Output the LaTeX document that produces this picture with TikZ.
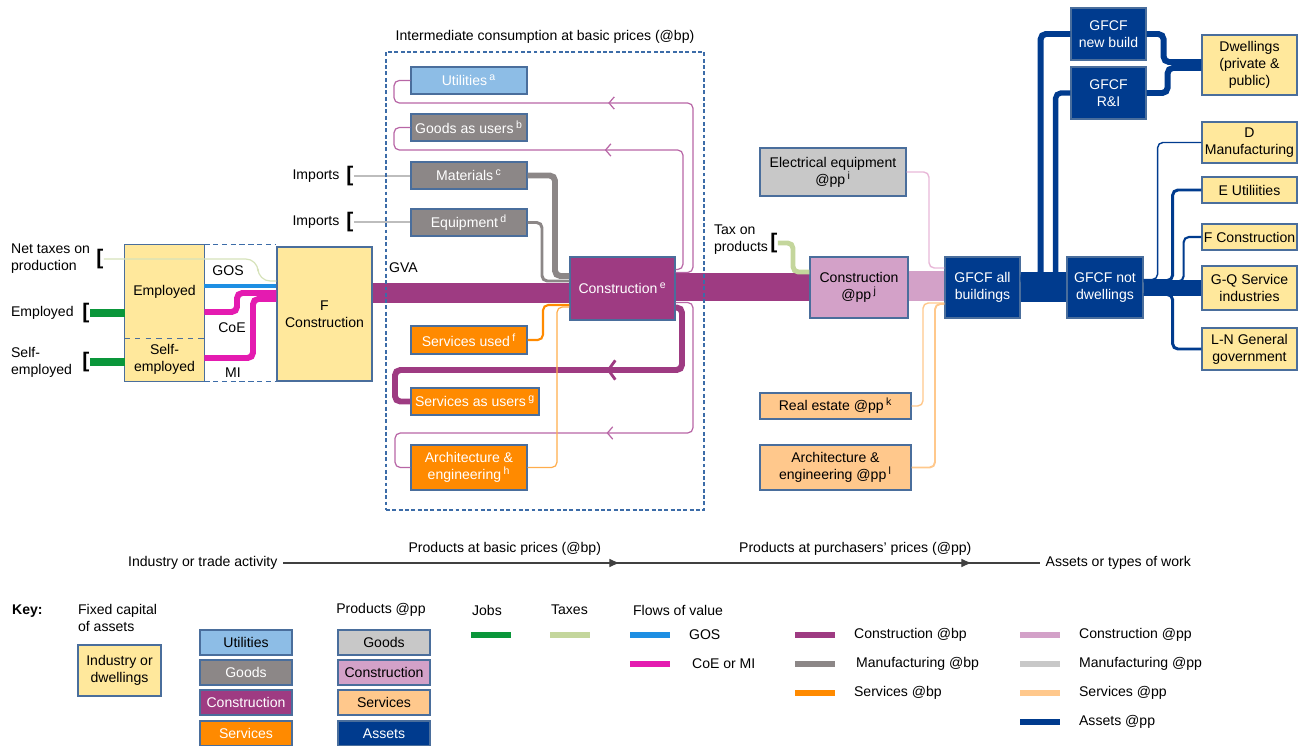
\documentclass[tikz,border=0pt]{standalone}
\usepackage{fontspec}
\setmainfont{Liberation Sans}
\usepackage{xcolor}
\usepackage{tikz}
\usetikzlibrary{arrows, arrows.meta, positioning, calc, decorations.markings}

\definecolor{yfill}{HTML}{FFE89C}
\definecolor{boxedge}{HTML}{4A6E9C}
\definecolor{ublue}{HTML}{8DBDE6}
\definecolor{gfill}{HTML}{8C8787}
\definecolor{cpurple}{HTML}{9E3B82}
\definecolor{sorange}{HTML}{FF8A00}
\definecolor{lgray}{HTML}{C8C8C8}
\definecolor{lpurple}{HTML}{D3A1C8}
\definecolor{lorange}{HTML}{FFC88C}
\definecolor{dblue}{HTML}{003B8E}
\definecolor{jobgreen}{HTML}{0A963A}
\definecolor{taxgreen}{HTML}{C4D69C}
\definecolor{gosblue}{HTML}{1E8FE3}
\definecolor{coemag}{HTML}{E41BB0}
\definecolor{dashblue}{HTML}{3C6CA8}
\definecolor{impgray}{HTML}{BDBDBD}
\definecolor{looppink}{HTML}{B866A6}
\definecolor{elecpink}{HTML}{E8B8D8}

\tikzset{
    tile/.style={draw=boxedge, line width=0.7pt, align=center, inner sep=1pt},
    ytile/.style={tile, fill=yfill},
    utile/.style={tile, fill=ublue, text=white},
    gtile/.style={tile, fill=gfill, text=white},
    ctile/.style={tile, fill=cpurple, text=white},
    stile/.style={tile, fill=sorange, text=white},
    etile/.style={tile, fill=lgray},
    cptile/.style={tile, fill=lpurple},
    sptile/.style={tile, fill=lorange},
    atile/.style={tile, fill=dblue, text=white},
    lbl/.style={align=left, inner sep=1pt},
    brk/.style={inner sep=0pt, font=\fontsize{12}{12}\selectfont\bfseries},
    stream/.style={rounded corners=3pt},
    band/.style={draw=cpurple},
    loopline/.style={stream, draw=looppink, line width=0.7pt},
    jobline/.style={draw=jobgreen, line width=4.5pt},
    coeline/.style={stream, draw=coemag, line width=3.4pt},
    edgedash/.style={draw=dashblue, line width=0.7pt, dash pattern=on 3pt off 2pt},
    swatch/.style={line width=3.4pt},
    flowmark/.style={postaction={decorate, decoration={markings,
        mark=at position #1 with {\arrow{Straight Barb[length=3pt,width=7pt]}}}}},
    thickmark/.style={postaction={decorate, decoration={markings,
        mark=at position #1 with {\arrow{Straight Barb[length=4pt,width=11pt,line width=1.6pt]}}}}},
}

\begin{document}
\begin{tikzpicture}[x=0.02cm, y=-0.02cm, font=\fontsize{8}{9.6}\selectfont]
\useasboundingbox (0,0) rectangle (1299,746);

% industry and jobs
\node[lbl, anchor=west] (lnet) at (9,259) {Net taxes on\\production};
\node[brk] (bnet) at (100,259) {[};
\node[lbl, anchor=west] (lemp) at (9,313) {Employed};
\node[brk] (bemp) at (86,313) {[};
\node[lbl, anchor=west] (lself) at (9,362) {Self-\\employed};
\node[brk] (bself) at (86,362) {[};

\node[fill=yfill, minimum width=1.58cm, minimum height=1.86cm, inner sep=0pt] (emp) at (164.5,291.5) {\raisebox{-4pt}{Employed}};
\node[fill=yfill, minimum width=1.58cm, minimum height=0.86cm, inner sep=0pt, align=center] (self) at (164.5,359.5) {Self-\\employed};
\draw[draw=boxedge, line width=0.7pt] (emp.north west) rectangle (self.south east);
\draw[draw=boxedge, line width=0.7pt, dashed] (emp.south west) -- (emp.south east);
\node[ytile, minimum width=1.9cm, minimum height=2.68cm] (fcon) at (324.5,314) {F\\Construction};

\draw[jobline] (bemp.east) -- (bemp.east -| emp.west);
\draw[jobline] (bself.east) -- (bself.east -| self.west);
\draw[stream, draw=taxgreen!70, line width=0.7pt, rounded corners=7pt] (bnet.east) -| (258,281) -- (fcon.west |- 0,281);
\draw[draw=gosblue, line width=2.8pt] (emp.east |- 0,286) -- (fcon.west |- 0,286);
\draw[coeline] (emp.east |- 0,312) -| (237,293) -- (fcon.west |- 0,293);
\draw[coeline] (self.east |- 0,358) -| (253,299) -- (fcon.west |- 0,299);
\draw[edgedash] (emp.north east) -- (emp.north east -| fcon.west);
\draw[edgedash] (self.south east) -- (self.south east -| fcon.west);
\node (lgos) at (228,271) {GOS};
\node (lcoe) at (232,328) {CoE};
\node (lmi) at (233,373) {MI};
\node[anchor=west, inner sep=1pt] (lgva) at (387,268) {GVA};

% intermediate consumption
\node[utile, minimum width=2.32cm, minimum height=0.54cm] (util) at (469,80.5) {Utilities\,\textsuperscript{a}};
\node[gtile, minimum width=2.32cm, minimum height=0.54cm] (guse) at (469,127.5) {Goods as users\,\textsuperscript{b}};
\node[gtile, minimum width=2.32cm, minimum height=0.54cm] (mat) at (469,175.5) {Materials\,\textsuperscript{c}};
\node[gtile, minimum width=2.32cm, minimum height=0.54cm] (equ) at (469,222.5) {Equipment\,\textsuperscript{d}};
\node[ctile, minimum width=2.1cm, minimum height=1.26cm] (cone) at (622.5,288.5) {Construction\,\textsuperscript{e}};
\node[stile, minimum width=2.32cm, minimum height=0.56cm] (sused) at (469,340) {Services used\,\textsuperscript{f}};
\node[stile, minimum width=2.56cm, minimum height=0.54cm] (suse) at (475,401.5) {Services as users\,\textsuperscript{g}};
\node[stile, minimum width=2.32cm, minimum height=0.9cm] (arch) at (469,467.5) {Architecture \&\\engineering\,\textsuperscript{h}};

\node[lbl] (limpm) at (316,176) {Imports};
\node[brk] (bimpm) at (350,176) {[};
\node[lbl] (limpe) at (316,222) {Imports};
\node[brk] (bimpe) at (350,222) {[};
\draw[draw=impgray, line width=0.7pt] (bimpm.east) -- (bimpm.east -| mat.west);
\draw[draw=impgray, line width=0.7pt] (bimpe.east) -- (bimpe.east -| equ.west);

% purchasers' prices and assets
\node[etile, minimum width=2.92cm, minimum height=0.96cm] (elec) at (833,172) {Electrical equipment\\@pp\,\textsuperscript{i}};
\node[cptile, minimum width=1.96cm, minimum height=1.22cm] (cpp) at (859,287.5) {Construction\\@pp\,\textsuperscript{j}};
\node[sptile, minimum width=3.02cm, minimum height=0.52cm] (rest) at (835.5,406) {Real estate @pp\,\textsuperscript{k}};
\node[sptile, minimum width=3.02cm, minimum height=0.9cm] (archpp) at (835.5,467.5) {Architecture \&\\engineering @pp\,\textsuperscript{l}};
\node[lbl, anchor=west] (ltax) at (712,240) {Tax on\\products};
\node[brk] (btax) at (774,243) {[};
\node[atile, minimum width=1.5cm, minimum height=1.22cm] (gall) at (982.5,287.5) {GFCF all\\buildings};
\node[atile, minimum width=1.52cm, minimum height=1.22cm] (gnot) at (1105,287.5) {GFCF not\\dwellings};
\node[atile, minimum width=1.5cm, minimum height=1.04cm] (gnew) at (1108.5,34) {GFCF\\new build};
\node[atile, minimum width=1.5cm, minimum height=1.04cm] (gri) at (1108.5,93) {GFCF\\R\&I};
\node[ytile, minimum width=1.9cm, minimum height=1.2cm] (dwell) at (1249.5,65) {Dwellings\\(private \&\\public)};
\node[ytile, minimum width=1.9cm, minimum height=0.82cm] (dman) at (1249.5,142.5) {D\\Manufacturing};
\node[ytile, minimum width=1.9cm, minimum height=0.52cm] (eut) at (1249.5,190) {E Utiliities};
\node[ytile, minimum width=1.9cm, minimum height=0.52cm] (fcn) at (1249.5,237) {F Construction};
\node[ytile, minimum width=1.9cm, minimum height=0.88cm] (gq) at (1249.5,288) {G-Q Service\\industries};
\node[ytile, minimum width=1.9cm, minimum height=0.84cm] (lng) at (1249.5,349) {L-N General\\government};

% main bands
\draw[band, line width=11.3pt] (fcon.east |- 0,293) -- (cone.west |- 0,293);
\draw[band, line width=15.9pt] (cone.east |- 0,287) -- (cpp.west |- 0,287);
\draw[band, draw=lpurple, line width=17pt] (cpp.east |- 0,286) -- (gall.west |- 0,286);
\draw[band, draw=dblue, line width=17pt] (gall.east |- 0,287) -- (gnot.west |- 0,287);

% flows into and out of construction
\draw[stream, draw=gfill, line width=3.4pt] (mat.east) -| (555,276) -- (cone.west |- 0,276);
\draw[stream, draw=gfill, line width=1.7pt] (equ.east) -| (542,281) -- (cone.west |- 0,281);
\draw[loopline, flowmark=0.518] ($(cone.east)+(0,-16)$) -| (693,103) -- (394,103) |- (util.west);
\draw[loopline, flowmark=0.45] ($(cone.east)+(0,-19)$) -| (683,150) -- (394,150) |- (guse.west);
\draw[stream, draw=cpurple, line width=3.4pt, thickmark=0.355] ($(cone.east)+(0,19)$) -| (682,370) -- (395,370) |- (suse.west);
\draw[loopline, flowmark=0.472] ($(cone.east)+(0,14)$) -| (693,433) -- (395,433) |- (arch.west);
\draw[stream, draw=sorange, line width=1.2pt] (sused.east) -| (543,305) -- (cone.west |- 0,305);
\draw[stream, draw=sorange!70, line width=0.7pt] (arch.east) -| (557,307) -- (cone.west |- 0,307);

\draw[stream, draw=taxgreen, line width=2.8pt] (btax.east) -| (793,272) -- (cpp.west |- 0,272);
\draw[stream, draw=elecpink, line width=0.8pt] (elec.east) -| (929,268) -- (gall.west |- 0,268);
\draw[stream, draw=lorange, line width=0.8pt] (rest.east) -| (923,303) -- (gall.west |- 0,303);
\draw[stream, draw=lorange, line width=1.1pt] (archpp.east) -| (935,304) -- (gall.west |- 0,304);

\draw[stream, draw=dblue, line width=3.4pt] ($(gall.east)+(0,-10)$) -- ++(20,0) |- (gnew.west);
\draw[stream, draw=dblue, line width=3pt] ($(gall.east)+(0,-8)$) -- ++(35,0) |- (gri.west);
\draw[stream, draw=dblue, line width=3.4pt] (gnew.east) -- ++(17,0) |- ($(dwell.west)+(0,-3)$);
\draw[stream, draw=dblue, line width=3.4pt] (gri.east) -- ++(21,0) |- ($(dwell.west)+(0,3)$);
\draw[draw=dblue, line width=9.6pt] (gnot.east |- 0,288) -- (gq.west);
\draw[stream, draw=dblue, line width=0.8pt] ($(gnot.east)+(0,-8)$) -- ++(14,0) |- (dman.west);
\draw[stream, draw=dblue, line width=1.7pt] ($(gnot.east)+(0,-7)$) -- ++(29,0) |- (eut.west);
\draw[stream, draw=dblue, line width=1.2pt] ($(gnot.east)+(0,-6)$) -- ++(40,0) |- (fcn.west);
\draw[stream, draw=dblue, line width=1.7pt] ($(gnot.east)+(0,7)$) -- ++(29,0) |- (lng.west);

% dashed frame
\node[draw=dashblue, line width=0.8pt, dash pattern=on 2.2pt off 1.4pt, minimum width=6.36cm, minimum height=9.16cm] (icbox) at (545,281) {};
\node[above=0.12cm of icbox.north, inner sep=1pt] (ictitle) {Intermediate consumption at basic prices (@bp)};

% price axis
\node[anchor=east, inner sep=3pt] (ax1) at (283,563) {Industry or trade activity};
\node[anchor=west, inner sep=3pt] (ax4) at (1040,563) {Assets or types of work};
\draw[draw=black!75, line width=0.7pt, postaction={decorate, decoration={markings,
    mark=at position 0.445 with {\arrow{Latex[length=6pt,width=5pt]}},
    mark=at position 0.91 with {\arrow{Latex[length=6pt,width=5pt]}}}}]
    (ax1.east) -- node[pos=0.293, above=3pt, inner sep=1pt] (ax2) {Products at basic prices (@bp)}
    node[pos=0.756, above=3pt, inner sep=1pt] (ax3) {Products at purchasers' prices (@pp)} (ax4.west);

% key
\node[anchor=west, inner sep=1pt] (kkey) at (10,611) {\textbf{Key:}};
\node[lbl, anchor=west] (kfix) at (76,618) {Fixed capital\\of assets};
\node[ytile, minimum width=1.66cm, minimum height=1.02cm] (kind) at (119.5,670.5) {Industry or\\dwellings};
\node[tile, fill=ublue, minimum width=1.84cm, minimum height=0.5cm] (kutil) at (246,642.5) {Utilities};
\node[gtile, minimum width=1.84cm, minimum height=0.5cm] (kgood) at (246,672.5) {Goods};
\node[ctile, minimum width=1.84cm, minimum height=0.5cm] (kcons) at (246,702.5) {Construction};
\node[stile, minimum width=1.84cm, minimum height=0.5cm] (kserv) at (246,733.5) {Services};
\node[inner sep=1pt] (kpp) at (381,610) {Products @pp};
\node[etile, minimum width=1.84cm, minimum height=0.5cm] (kgpp) at (384,642.5) {Goods};
\node[cptile, minimum width=1.84cm, minimum height=0.5cm] (kcpp) at (384,672.5) {Construction};
\node[sptile, minimum width=1.84cm, minimum height=0.5cm] (kspp) at (384,702.5) {Services};
\node[atile, minimum width=1.84cm, minimum height=0.5cm] (kasset) at (384,733.5) {Assets};

\node[anchor=west, inner sep=1pt] (kjobs) at (470,610) {Jobs};
\draw[swatch, draw=jobgreen] (471,635) -- ++(40,0);
\node[anchor=west, inner sep=1pt] (ktax) at (549,610) {Taxes};
\draw[swatch, draw=taxgreen] (550,635) -- ++(40,0);
\node[anchor=west, inner sep=1pt] (kflow) at (631,610) {Flows of value};
\draw[swatch, draw=gosblue] (630,635) -- ++(40,0);
\node[anchor=west, inner sep=1pt] (kgos) at (687,635) {GOS};
\draw[swatch, draw=coemag] (630,664) -- ++(40,0);
\node[anchor=west, inner sep=1pt] (kcoe) at (690,664) {CoE or MI};
\draw[swatch, draw=cpurple] (795,635) -- ++(40,0);
\node[anchor=west, inner sep=1pt] (kcbp) at (852,635) {Construction @bp};
\draw[swatch, draw=gfill] (795,664) -- ++(40,0);
\node[anchor=west, inner sep=1pt] (kmbp) at (854,664) {Manufacturing @bp};
\draw[swatch, draw=sorange] (795,693) -- ++(40,0);
\node[anchor=west, inner sep=1pt] (ksbp) at (852,693) {Services @bp};
\draw[swatch, draw=lpurple] (1020,635) -- ++(40,0);
\node[anchor=west, inner sep=1pt] (kcpp2) at (1077,635) {Construction @pp};
\draw[swatch, draw=lgray] (1020,664) -- ++(40,0);
\node[anchor=west, inner sep=1pt] (kmpp) at (1077,664) {Manufacturing @pp};
\draw[swatch, draw=lorange] (1020,693) -- ++(40,0);
\node[anchor=west, inner sep=1pt] (kspp2) at (1077,693) {Services @pp};
\draw[swatch, draw=dblue] (1020,722) -- ++(40,0);
\node[anchor=west, inner sep=1pt] (kapp) at (1077,722) {Assets @pp};
\end{tikzpicture}
\end{document}
